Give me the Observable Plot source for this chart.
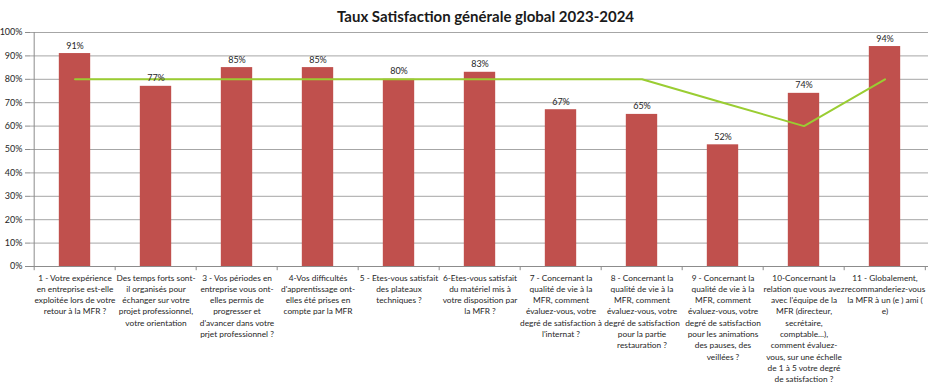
<!DOCTYPE html>
<html>
<head>
<meta charset="utf-8">
<script src="https://cdn.jsdelivr.net/npm/d3@7"></script>
<script src="https://cdn.jsdelivr.net/npm/@observablehq/plot@0.6"></script>
<style>
  body { margin: 0; background: #fff; font-family: Lato, "Open Sans", sans-serif; }
  #title { height: 26px; line-height: 32px; font-size: 15px; font-weight: bold; color: #1a1a1a; text-align: center; padding-left: 38px; width: 933px; box-sizing: border-box; }
  #chart svg { display: block; }
</style>
</head>
<body>
<div id="title">Taux Satisfaction générale global 2023-2024</div>
<div id="chart"></div>
<script>
const categories = ["1","2","3","4","5","6","7","8","9","10","11"];
const labels = [
  "1 - Votre expérience\nen entreprise est-elle\nexploitée lors de votre\nretour à la MFR ?",
  "Des temps forts sont-\nil organisés pour\néchanger sur votre\nprojet professionnel,\nvotre orientation",
  "3 - Vos périodes en\nentreprise vous ont-\nelles permis de\nprogresser et\nd'avancer dans votre\nprjet professionnel ?",
  "4-Vos difficultés\nd'apprentissage ont-\nelles été prises en\ncompte par la MFR",
  "5 - Etes-vous satisfait\ndes plateaux\ntechniques ?",
  "6-Etes-vous satisfait\ndu matériel mis à\nvotre disposition par\nla MFR ?",
  "7 - Concernant la\nqualité de vie à la\nMFR, comment\névaluez-vous, votre\ndegré de satisfaction à\nl'internat ?",
  "8 - Concernant la\nqualité de vie à la\nMFR, comment\névaluez-vous, votre\ndegré de satisfaction\npour la partie\nrestauration ?",
  "9 - Concernant la\nqualité de vie à la\nMFR, comment\névaluez-vous, votre\ndegré de satisfaction\npour les animations\ndes pauses, des\nveillées ?",
  "10-Concernant la\nrelation que vous avez\navec l'équipe de la\nMFR (directeur,\nsecrétaire,\ncomptable...),\ncomment évaluez-\nvous, sur une échelle\nde 1 à 5 votre degré\nde satisfaction ?",
  "11 - Globalement,\nrecommanderiez-vous\nla MFR à un (e ) ami (\ne)"
];
const satisfaction = [91, 77, 85, 85, 80, 83, 67, 65, 52, 74, 94];
const objectif = [80, 80, 80, 80, 80, 80, 80, 80, 70, 60, 80];
const yTicks = [0,10,20,30,40,50,60,70,80,90,100];

const data = categories.map((c, i) => ({cat: c, label: labels[i], value: satisfaction[i], target: objectif[i]}));

const bandW = (928 - 30) / categories.length;
const barInset = (bandW - 32) / 2;

const chart = Plot.plot({
  width: 933,
  height: 357,
  marginTop: 6,
  marginBottom: 117,
  marginLeft: 30,
  marginRight: 5,
  style: {fontFamily: "Lato, 'Open Sans', sans-serif", background: "#fff"},
  x: {domain: categories, padding: 0, axis: null},
  y: {domain: [0, 100], axis: null},
  marks: [
    Plot.ruleY(yTicks, {y: d => d, stroke: "#a6a6a6", strokeWidth: 1}),
    Plot.barY(data, {x: "cat", y: "value", fill: "#C0504D", insetLeft: barInset, insetRight: barInset}),
    Plot.ruleX([categories[0]], {x: d => d, dx: -bandW / 2, y1: 0, y2: 100, stroke: "#8c8c8c"}),
    Plot.ruleY([0], {stroke: "#8c8c8c"}),
    Plot.ruleX(categories, {x: d => d, dx: -bandW / 2, y1: 0, y2: -1.8, stroke: "#8c8c8c"}),
    Plot.ruleX([categories[categories.length - 1]], {x: d => d, dx: bandW / 2 - 0.5, y1: 0, y2: -1.8, stroke: "#8c8c8c"}),
    Plot.lineY(data, {x: "cat", y: "target", stroke: "#9ACD32", strokeWidth: 2}),
    Plot.text(data, {x: "cat", y: "value", text: d => d.value + "%", lineAnchor: "bottom", dy: -5, fontSize: 9, fill: "#262626"}),
    Plot.axisY(yTicks, {tickFormat: d => d + "%", tickSize: 5, stroke: "#8c8c8c", fontSize: 9, fill: "#262626", tickPadding: 3, label: null}),
    Plot.text(data, {x: "cat", text: "label", frameAnchor: "bottom", lineAnchor: "top", dy: 6, fontSize: 8.3, lineHeight: 1.36, fill: "#262626"})
  ]
});
document.getElementById("chart").appendChild(chart);
</script>
</body>
</html>
